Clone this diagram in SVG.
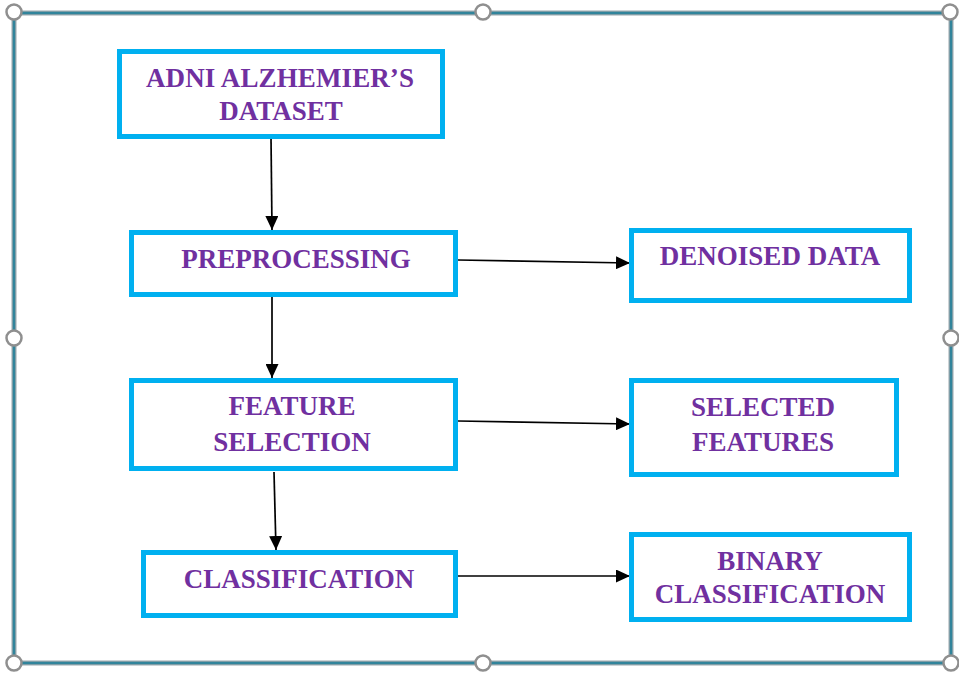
<svg xmlns="http://www.w3.org/2000/svg" width="959" height="673" viewBox="0 0 959 673">
  <defs>
    <marker id="arrow" viewBox="0 0 14 13" refX="14" refY="6.5" markerWidth="14" markerHeight="13" markerUnits="userSpaceOnUse" orient="auto">
      <path d="M0,0 L14,6.5 L0,13 Z" fill="#000"/>
    </marker>
  </defs>
  <style>
    .box { fill: #fff; stroke: #00B0F0; stroke-width: 5; }
    .label { font-family: "Liberation Serif", "Times New Roman", serif; font-weight: bold; font-size: 27px; fill: #7030A0; text-anchor: middle; }
    .edge { stroke: #000; stroke-width: 1.7; fill: none; marker-end: url(#arrow); }
    .frame-outer { fill: none; stroke: #9aa7ad; stroke-width: 5; }
    .frame-inner { fill: none; stroke: #31849B; stroke-width: 2.5; }
    .handle { fill: #fff; stroke: #8f8f8f; stroke-width: 2.5; }
  </style>

  <rect width="959" height="673" fill="#fff"/>

  <!-- selection frame -->
  <g id="frame">
    <rect class="frame-outer" x="14" y="13" width="937" height="650"/>
    <rect class="frame-inner" x="14" y="13" width="937" height="650"/>
    <circle class="handle" cx="14" cy="12" r="7.5"/>
    <circle class="handle" cx="483" cy="12" r="7.5"/>
    <circle class="handle" cx="950" cy="12" r="7.5"/>
    <circle class="handle" cx="14" cy="338" r="7.5"/>
    <circle class="handle" cx="951" cy="338" r="7.5"/>
    <circle class="handle" cx="14" cy="663" r="7.5"/>
    <circle class="handle" cx="483" cy="663" r="7.5"/>
    <circle class="handle" cx="951" cy="663" r="7.5"/>
  </g>

  <!-- connectors -->
  <g id="connectors">
    <line class="edge" x1="271" y1="137" x2="272" y2="230"/>
    <line class="edge" x1="272" y1="297" x2="272" y2="378"/>
    <line class="edge" x1="274" y1="472" x2="276" y2="550"/>
    <line class="edge" x1="458" y1="260" x2="630" y2="263"/>
    <line class="edge" x1="458" y1="421" x2="630" y2="424"/>
    <line class="edge" x1="458" y1="576" x2="630" y2="576"/>
  </g>

  <g id="dataset">
    <rect class="box" x="119.5" y="51.5" width="323" height="85"/>
    <text class="label" x="280" y="87" textLength="268" lengthAdjust="spacing">ADNI ALZHEMIER’S</text>
    <text class="label" x="281" y="120">DATASET</text>
  </g>

  <g id="preprocessing">
    <rect class="box" x="131.5" y="232.5" width="324" height="62"/>
    <text class="label" x="296" y="268">PREPROCESSING</text>
  </g>

  <g id="denoised">
    <rect class="box" x="631.5" y="230.5" width="278" height="70"/>
    <text class="label" x="770" y="265">DENOISED DATA</text>
  </g>

  <g id="feature-selection">
    <rect class="box" x="131.5" y="380.5" width="324" height="88"/>
    <text class="label" x="292" y="415">FEATURE</text>
    <text class="label" x="292" y="451">SELECTION</text>
  </g>

  <g id="selected-features">
    <rect class="box" x="631.5" y="380.5" width="265" height="94"/>
    <text class="label" x="763" y="416">SELECTED</text>
    <text class="label" x="763" y="451">FEATURES</text>
  </g>

  <g id="classification">
    <rect class="box" x="143.5" y="552.5" width="312" height="63"/>
    <text class="label" x="299" y="588">CLASSIFICATION</text>
  </g>

  <g id="binary-classification">
    <rect class="box" x="631.5" y="534.5" width="278" height="85"/>
    <text class="label" x="770" y="570">BINARY</text>
    <text class="label" x="770" y="603">CLASSIFICATION</text>
  </g>
</svg>
